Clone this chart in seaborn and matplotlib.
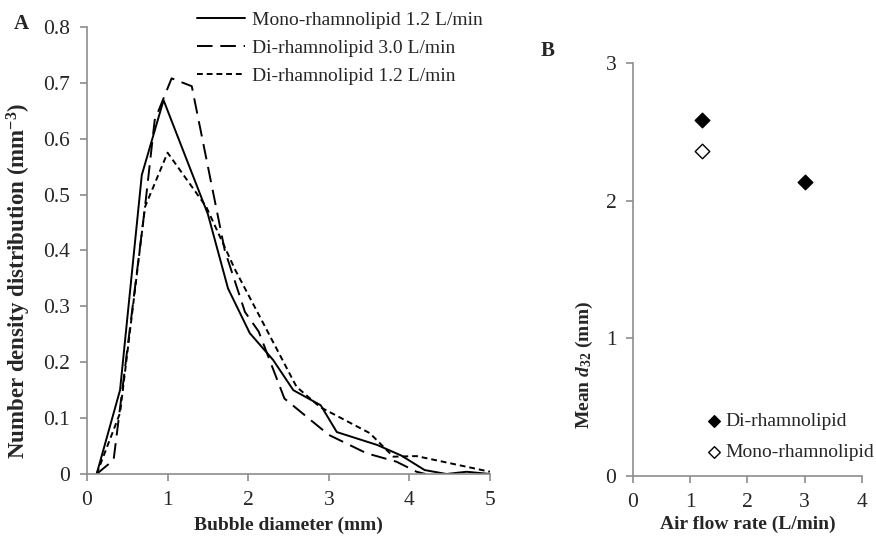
import pandas as pd
import matplotlib
matplotlib.use("Agg")
import matplotlib.pyplot as plt
import seaborn as sns

# Panel A: number density distribution vs bubble diameter
mono12_x = [0.12, 0.41, 0.68, 0.95, 1.50, 1.75, 2.02, 2.31, 2.56, 2.90, 3.10, 3.60, 3.90, 4.19, 4.46, 4.71, 5.0]
mono12_y = [0.0, 0.15, 0.535, 0.669, 0.465, 0.332, 0.252, 0.204, 0.15, 0.123, 0.075, 0.052, 0.033, 0.007, 0.0, 0.004, 0.0]

di30_x = [0.12, 0.33, 0.72, 0.84, 1.05, 1.30, 1.71, 1.96, 2.13, 2.45, 3.0, 3.47, 3.84, 4.09, 4.2]
di30_y = [0.0, 0.025, 0.478, 0.633, 0.708, 0.694, 0.40, 0.29, 0.255, 0.135, 0.07, 0.037, 0.022, 0.004, 0.0]

di12_x = [0.12, 0.41, 0.72, 1.0, 1.48, 1.84, 2.15, 2.60, 2.89, 3.51, 3.80, 4.09, 5.0]
di12_y = [0.0, 0.109, 0.478, 0.575, 0.478, 0.365, 0.28, 0.156, 0.12, 0.073, 0.031, 0.032, 0.004]

series_labels = ["Mono-rhamnolipid 1.2 L/min", "Di-rhamnolipid 3.0 L/min", "Di-rhamnolipid 1.2 L/min"]

# Panel B: mean d32 vs air flow rate
di_flow = [1.2, 3.0]
di_d32 = [2.585, 2.135]
mono_flow = [1.2]
mono_d32 = [2.36]

sns.set_style("white")
plt.rcParams['font.family'] = ['Liberation Serif', 'DejaVu Serif']
plt.rcParams['mathtext.fontset'] = 'custom'
plt.rcParams['mathtext.rm'] = 'Liberation Serif'
plt.rcParams['mathtext.it'] = 'Liberation Serif:italic'
plt.rcParams['mathtext.bf'] = 'Liberation Serif:bold'
plt.rcParams['mathtext.bfit'] = 'Liberation Serif:italic:bold'

axis_gray = '#8c8c8c'
tick_fs = 15.5
lab_fs = 14
leg_fs = 14

fig = plt.figure(figsize=(8.76, 5.36), dpi=100)
ax1 = fig.add_axes([0.0993, 0.1157, 0.460, 0.834])
ax2 = fig.add_axes([0.7226, 0.112, 0.2614, 0.7705])

line_styles = ['-', (0, (8, 4)), (0, (3, 2))]
for xs, ys, lab, ls in zip([mono12_x, di30_x, di12_x], [mono12_y, di30_y, di12_y], series_labels, line_styles):
    df = pd.DataFrame({'d': xs, 'n': ys})
    sns.lineplot(data=df, x='d', y='n', ax=ax1, color='black', linewidth=1.4,
                 linestyle=ls, label=lab, sort=False)

ax1.set_xlim(0, 5)
ax1.set_ylim(0, 0.8)
ax1.set_xticks(range(0, 6))
ax1.set_yticks([0, 0.1, 0.2, 0.3, 0.4, 0.5, 0.6, 0.7, 0.8])
ax1.set_yticklabels(['0', '0.1', '0.2', '0.3', '0.4', '0.5', '0.6', '0.7', '0.8'])
ax1.set_xlabel('Bubble diameter (mm)', fontsize=lab_fs, fontweight='bold')
ax1.set_ylabel(r'Number density distribution (mm$^{\mathbf{-3}}$)', fontsize=16.5,
               fontweight='bold')
ax1.yaxis.set_label_coords(-0.134, 0.432)
ax1.xaxis.set_label_coords(0.5, -0.095)
ax1.legend(loc='upper left', bbox_to_anchor=(0.273, 1.035), frameon=False, fontsize=leg_fs,
           handlelength=2.47, labelspacing=0.53, handletextpad=0.36, borderpad=0,
           borderaxespad=0)

df_b = pd.DataFrame({
    'flow': di_flow + mono_flow,
    'd32': di_d32 + mono_d32,
    'type': ['Di-rhamnolipid'] * len(di_flow) + ['Mono-rhamnolipid'] * len(mono_flow),
})
sns.scatterplot(data=df_b[df_b['type'] == 'Di-rhamnolipid'], x='flow', y='d32', ax=ax2,
                marker='D', s=55, color='black', edgecolor='black', linewidth=1.0,
                label='Di-rhamnolipid')
sns.scatterplot(data=df_b[df_b['type'] == 'Mono-rhamnolipid'], x='flow', y='d32', ax=ax2,
                marker='D', s=55, facecolor='white', edgecolor='black', linewidth=1.0,
                label='Mono-rhamnolipid')
ax2.set_xlim(0, 4)
ax2.set_ylim(0, 3)
ax2.set_xticks(range(0, 5))
ax2.set_yticks(range(0, 4))
ax2.set_xlabel('Air flow rate (L/min)', fontsize=lab_fs, fontweight='bold')
ax2.set_ylabel(r'Mean $\mathbfit{d}_{\mathbf{32}}$ (mm)', fontsize=lab_fs, fontweight='bold')
ax2.yaxis.set_label_coords(-0.165, 0.27)
ax2.xaxis.set_label_coords(0.5, -0.095)
ax2.legend(loc='upper left', bbox_to_anchor=(0.319, 0.153), frameon=False, fontsize=leg_fs,
           handlelength=0.8, handletextpad=0.2, markerscale=0.8, labelspacing=0.65,
           borderpad=0, borderaxespad=0)

for ax in (ax1, ax2):
    sns.despine(ax=ax)
    for sp in ('left', 'bottom'):
        ax.spines[sp].set_color(axis_gray)
        ax.spines[sp].set_linewidth(1.2)
    ax.tick_params(axis='both', which='major', direction='out', length=5, width=1.2,
                   color=axis_gray, labelsize=tick_fs, pad=7, left=True, bottom=True)

fig.text(0.016, 0.945, 'A', fontsize=15, fontweight='bold')
fig.text(0.617, 0.895, 'B', fontsize=15, fontweight='bold')

fig.savefig('out.png', dpi=100)
